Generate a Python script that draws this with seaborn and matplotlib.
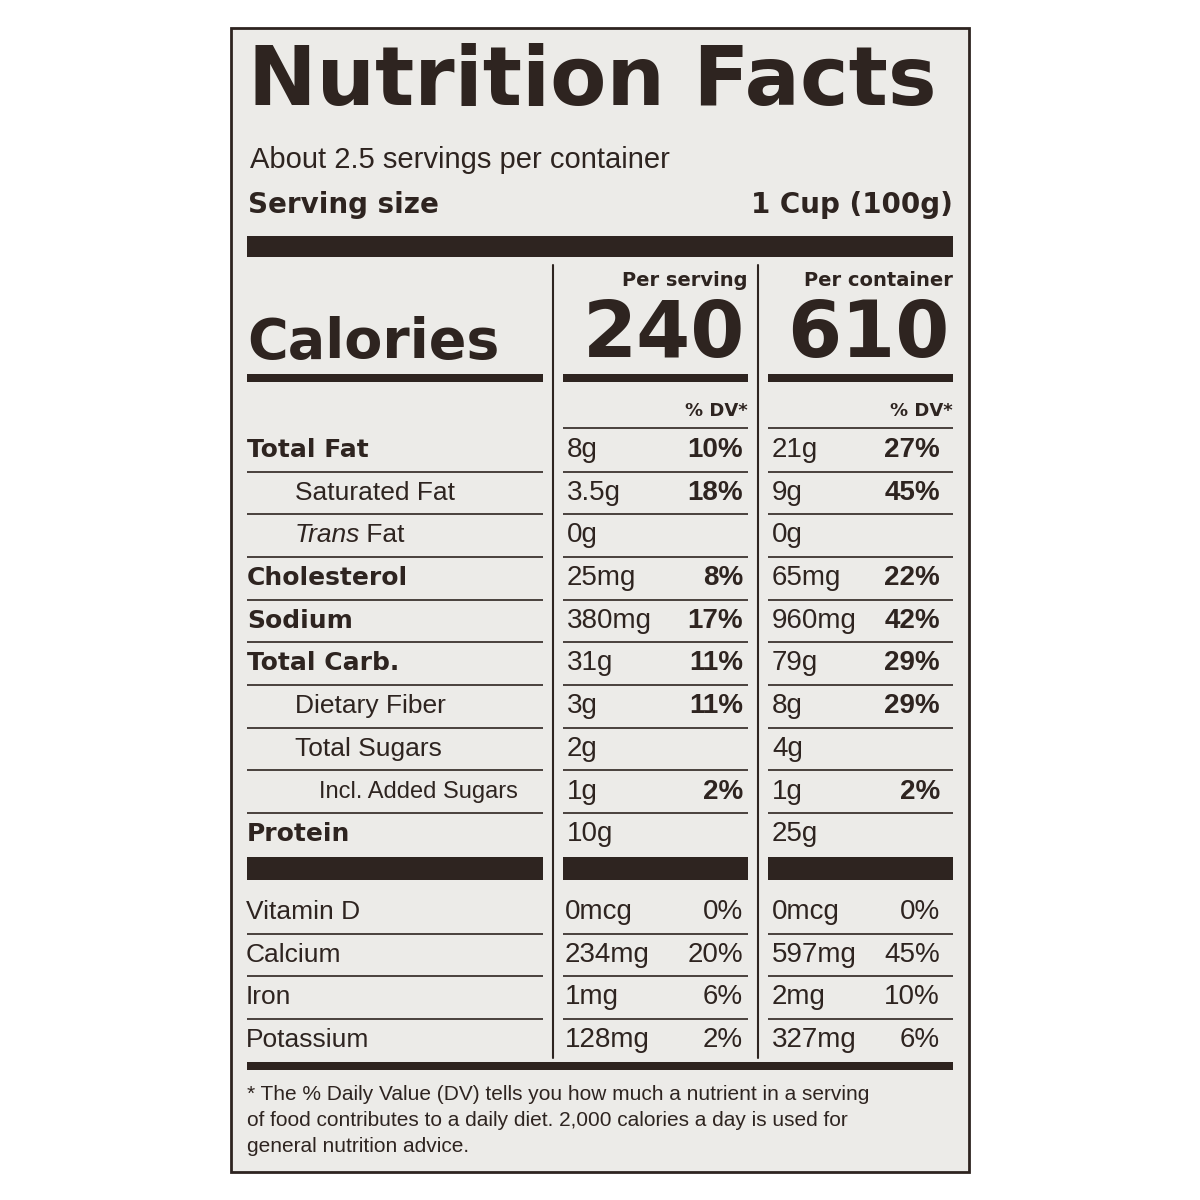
import matplotlib
matplotlib.use("Agg")
import matplotlib.pyplot as plt
import seaborn as sns

sns.set_theme(style="white")
plt.rcParams['font.family'] = ['Liberation Sans', 'DejaVu Sans']

# label data
servings_text = "About 2.5 servings per container"
serving_size = "1 Cup (100g)"
calories = ["240", "610"]
col_heads = ["Per serving", "Per container"]

nutrients = ["Total Fat", "Saturated Fat", "Trans Fat", "Cholesterol", "Sodium",
             "Total Carb.", "Dietary Fiber", "Total Sugars", "Incl. Added Sugars", "Protein"]
indent = [0, 1, 1, 0, 0, 0, 1, 1, 2, 0]
bold = [True, False, False, True, True, True, False, False, False, True]
serv_amt = ["8g", "3.5g", "0g", "25mg", "380mg", "31g", "3g", "2g", "1g", "10g"]
serv_dv = ["10%", "18%", "", "8%", "17%", "11%", "11%", "", "2%", ""]
cont_amt = ["21g", "9g", "0g", "65mg", "960mg", "79g", "8g", "4g", "1g", "25g"]
cont_dv = ["27%", "45%", "", "22%", "42%", "29%", "29%", "", "2%", ""]

vitamins = ["Vitamin D", "Calcium", "Iron", "Potassium"]
vit_serv_amt = ["0mcg", "234mg", "1mg", "128mg"]
vit_serv_dv = ["0%", "20%", "6%", "2%"]
vit_cont_amt = ["0mcg", "597mg", "2mg", "327mg"]
vit_cont_dv = ["0%", "45%", "10%", "6%"]

footnote = ["* The % Daily Value (DV) tells you how much a nutrient in a serving",
            "of food contributes to a daily diet. 2,000 calories a day is used for",
            "general nutrition advice."]

ink = "#2e2420"
panel = "#ecebe8"

fig = plt.figure(figsize=(12, 12), dpi=100)
ax = fig.add_axes([0, 0, 1, 1])
ax.set_xlim(0, 1200)
ax.set_ylim(1200, 0)
ax.axis("off")

ax.add_patch(plt.Rectangle((231, 28), 738, 1144, facecolor=panel, edgecolor=ink, lw=2))

def bar(x0, x1, y0, y1):
    ax.add_patch(plt.Rectangle((x0, y0), x1 - x0, y1 - y0, facecolor=ink, edgecolor="none"))

def hline(x0, x1, y, lw=1.2):
    ax.plot([x0, x1], [y, y], color=ink, lw=lw, solid_capstyle="butt")

H = dict(family="DejaVu Sans", weight="bold", color=ink, va="center")
R = dict(color=ink, va="center")

ax.text(248, 82, "Nutrition Facts", fontsize=59, **H)
ax.text(250, 160, servings_text, fontsize=21, **R)
ax.text(248, 205, "Serving size", fontsize=20, **H)
ax.text(953, 205, serving_size, fontsize=20, ha="right", **H)
bar(247, 953, 236, 257)

cols = [(563, 748), (768, 953)]
for x in (553, 758):
    ax.plot([x, x], [265, 1058], color=ink, lw=1.5)

ax.text(247, 343, "Calories", fontsize=40, **H)
for (x0, x1), head, cal in zip(cols, col_heads, calories):
    ax.text(x1, 281, head, fontsize=14, ha="right", **H)
    ax.text(x1 - 3, 335, cal, fontsize=56, ha="right", **H)
bar(247, 543, 374, 382)
for x0, x1 in cols:
    bar(x0, x1, 374, 382)
    ax.text(x1, 411, "% DV*", fontsize=13, ha="right", **H)

segs = [(247, 543)] + cols
hline(563, 748, 428); hline(768, 953, 428)
y0, dy = 450, 42.7
for i, name in enumerate(nutrients):
    y = y0 + i * dy
    x = 247 + [0, 48, 72][indent[i]]
    if name == "Trans Fat":
        ax.text(x, y, "Trans", fontsize=19, style="italic", **R)
        ax.text(x + 64, y, " Fat", fontsize=19, **R)
    elif bold[i]:
        ax.text(x, y, name, fontsize=18, **H)
    else:
        ax.text(x, y, name, fontsize=19 if indent[i] < 2 else 17, **R)
    ax.text(567, y, serv_amt[i], fontsize=20, **R)
    ax.text(743, y, serv_dv[i], fontsize=20, ha="right", weight="bold", **R)
    ax.text(772, y, cont_amt[i], fontsize=20, **R)
    ax.text(940, y, cont_dv[i], fontsize=20, ha="right", weight="bold", **R)
    if i < len(nutrients) - 1:
        for a, b in segs:
            hline(a, b, y + 21.5)
for a, b in segs:
    bar(a, b, 857, 880)

y0 = 912
for i, name in enumerate(vitamins):
    y = y0 + i * 42.7
    ax.text(246, y, name, fontsize=19, **R)
    ax.text(565, y, vit_serv_amt[i], fontsize=20, **R)
    ax.text(743, y, vit_serv_dv[i], fontsize=20, ha="right", **R)
    ax.text(772, y, vit_cont_amt[i], fontsize=20, **R)
    ax.text(940, y, vit_cont_dv[i], fontsize=20, ha="right", **R)
    if i < len(vitamins) - 1:
        for a, b in segs:
            hline(a, b, y + 21.5)
bar(247, 953, 1062, 1070)

for i, line in enumerate(footnote):
    ax.text(247, 1095 + i * 26, line, fontsize=15, **R)

fig.savefig("out.png", dpi=100, facecolor="white")
